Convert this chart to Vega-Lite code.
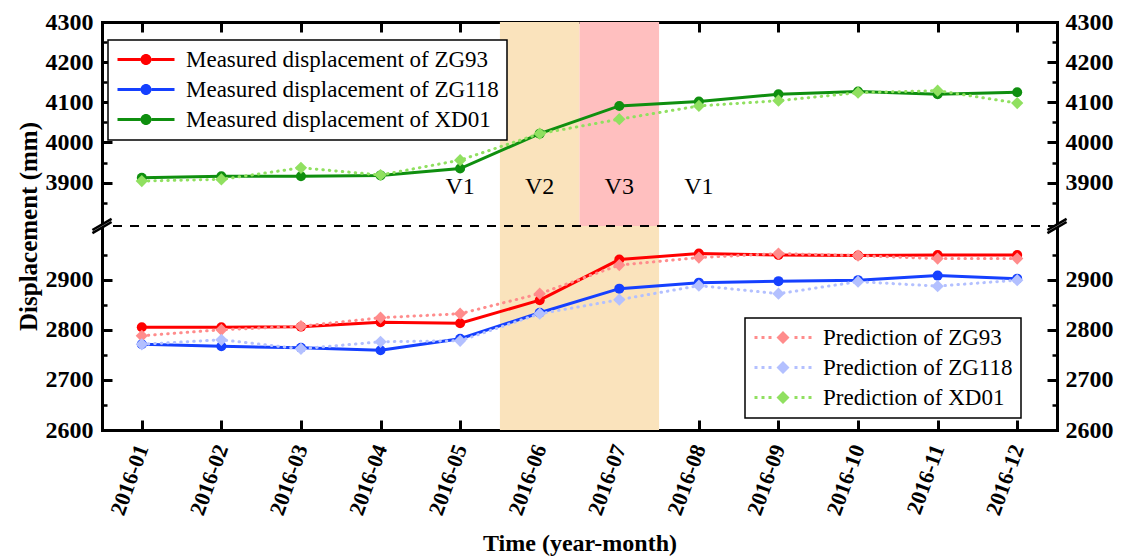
{
  "$schema": "https://vega.github.io/schema/vega-lite/v6.json",
  "width": 955,
  "height": 408,
  "autosize": {"type": "none"},
  "padding": {"left": 102, "top": 22, "right": 66, "bottom": 128},
  "background": "white",
  "config": {
    "view": {"stroke": null},
    "axis": {
      "grid": false,
      "domainColor": "black",
      "domainWidth": 3,
      "domainCap": "square",
      "tickColor": "black",
      "tickWidth": 3,
      "labelFont": "Liberation Serif",
      "labelFontWeight": "bold",
      "labelColor": "black",
      "labelFlush": false,
      "labelOverlap": false,
      "titleFont": "Liberation Serif",
      "titleFontWeight": "bold",
      "titleColor": "black"
    },
    "legend": {
      "labelFont": "Liberation Serif",
      "labelFontSize": 23,
      "labelColor": "black",
      "strokeColor": "black",
      "strokeWidth": 1.5,
      "fillColor": "white",
      "padding": 8,
      "rowPadding": 6,
      "labelOffset": 47,
      "labelLimit": 400
    }
  },
  "datasets": {
    "measured": [
      {"series": "Measured displacement of ZG93", "month": 1, "value": 2805},
      {"series": "Measured displacement of ZG93", "month": 2, "value": 2805},
      {"series": "Measured displacement of ZG93", "month": 3, "value": 2806},
      {"series": "Measured displacement of ZG93", "month": 4, "value": 2815},
      {"series": "Measured displacement of ZG93", "month": 5, "value": 2813},
      {"series": "Measured displacement of ZG93", "month": 6, "value": 2859},
      {"series": "Measured displacement of ZG93", "month": 7, "value": 2940},
      {"series": "Measured displacement of ZG93", "month": 8, "value": 2952},
      {"series": "Measured displacement of ZG93", "month": 9, "value": 2949},
      {"series": "Measured displacement of ZG93", "month": 10, "value": 2948},
      {"series": "Measured displacement of ZG93", "month": 11, "value": 2949},
      {"series": "Measured displacement of ZG93", "month": 12, "value": 2949},
      {"series": "Measured displacement of ZG118", "month": 1, "value": 2771},
      {"series": "Measured displacement of ZG118", "month": 2, "value": 2767},
      {"series": "Measured displacement of ZG118", "month": 3, "value": 2764},
      {"series": "Measured displacement of ZG118", "month": 4, "value": 2759},
      {"series": "Measured displacement of ZG118", "month": 5, "value": 2782},
      {"series": "Measured displacement of ZG118", "month": 6, "value": 2834},
      {"series": "Measured displacement of ZG118", "month": 7, "value": 2882},
      {"series": "Measured displacement of ZG118", "month": 8, "value": 2894},
      {"series": "Measured displacement of ZG118", "month": 9, "value": 2897},
      {"series": "Measured displacement of ZG118", "month": 10, "value": 2899},
      {"series": "Measured displacement of ZG118", "month": 11, "value": 2908},
      {"series": "Measured displacement of ZG118", "month": 12, "value": 2902},
      {"series": "Measured displacement of XD01", "month": 1, "value": 3912},
      {"series": "Measured displacement of XD01", "month": 2, "value": 3916},
      {"series": "Measured displacement of XD01", "month": 3, "value": 3916},
      {"series": "Measured displacement of XD01", "month": 4, "value": 3918},
      {"series": "Measured displacement of XD01", "month": 5, "value": 3935},
      {"series": "Measured displacement of XD01", "month": 6, "value": 4022},
      {"series": "Measured displacement of XD01", "month": 7, "value": 4091},
      {"series": "Measured displacement of XD01", "month": 8, "value": 4102},
      {"series": "Measured displacement of XD01", "month": 9, "value": 4120},
      {"series": "Measured displacement of XD01", "month": 10, "value": 4127},
      {"series": "Measured displacement of XD01", "month": 11, "value": 4120},
      {"series": "Measured displacement of XD01", "month": 12, "value": 4125}
    ],
    "predicted": [
      {"series": "Prediction of ZG93", "month": 1, "value": 2788},
      {"series": "Prediction of ZG93", "month": 2, "value": 2800},
      {"series": "Prediction of ZG93", "month": 3, "value": 2807},
      {"series": "Prediction of ZG93", "month": 4, "value": 2824},
      {"series": "Prediction of ZG93", "month": 5, "value": 2832},
      {"series": "Prediction of ZG93", "month": 6, "value": 2872},
      {"series": "Prediction of ZG93", "month": 7, "value": 2929},
      {"series": "Prediction of ZG93", "month": 8, "value": 2944},
      {"series": "Prediction of ZG93", "month": 9, "value": 2952},
      {"series": "Prediction of ZG93", "month": 10, "value": 2948},
      {"series": "Prediction of ZG93", "month": 11, "value": 2942},
      {"series": "Prediction of ZG93", "month": 12, "value": 2942},
      {"series": "Prediction of ZG118", "month": 1, "value": 2771},
      {"series": "Prediction of ZG118", "month": 2, "value": 2780},
      {"series": "Prediction of ZG118", "month": 3, "value": 2762},
      {"series": "Prediction of ZG118", "month": 4, "value": 2776},
      {"series": "Prediction of ZG118", "month": 5, "value": 2778},
      {"series": "Prediction of ZG118", "month": 6, "value": 2832},
      {"series": "Prediction of ZG118", "month": 7, "value": 2860},
      {"series": "Prediction of ZG118", "month": 8, "value": 2888},
      {"series": "Prediction of ZG118", "month": 9, "value": 2872},
      {"series": "Prediction of ZG118", "month": 10, "value": 2896},
      {"series": "Prediction of ZG118", "month": 11, "value": 2887},
      {"series": "Prediction of ZG118", "month": 12, "value": 2899},
      {"series": "Prediction of XD01", "month": 1, "value": 3904},
      {"series": "Prediction of XD01", "month": 2, "value": 3908},
      {"series": "Prediction of XD01", "month": 3, "value": 3937},
      {"series": "Prediction of XD01", "month": 4, "value": 3919},
      {"series": "Prediction of XD01", "month": 5, "value": 3956},
      {"series": "Prediction of XD01", "month": 6, "value": 4022},
      {"series": "Prediction of XD01", "month": 7, "value": 4058},
      {"series": "Prediction of XD01", "month": 8, "value": 4091},
      {"series": "Prediction of XD01", "month": 9, "value": 4104},
      {"series": "Prediction of XD01", "month": 10, "value": 4124},
      {"series": "Prediction of XD01", "month": 11, "value": 4129},
      {"series": "Prediction of XD01", "month": 12, "value": 4098}
    ],
    "stages": [
      {"zone": "V2", "start": 5.5, "end": 6.5, "low": 3007, "high": 4300},
      {"zone": "V3", "start": 6.5, "end": 7.5, "low": 3007, "high": 4300},
      {"zone": "V2", "start": 5.5, "end": 7.5, "low": 2600, "high": 3007}
    ],
    "stageLabels": [
      {"month": 5, "label": "V1"},
      {"month": 6, "label": "V2"},
      {"month": 7, "label": "V3"},
      {"month": 8, "label": "V1"}
    ],
    "axisEdges": [
      {"edge": 0.5},
      {"edge": 12.5}
    ]
  },
  "resolve": {
    "scale": {"color": "independent"},
    "axis": {"x": "independent", "y": "independent"}
  },
  "layer": [
    {
      "data": {"name": "stages"},
      "mark": {"type": "rect"},
      "encoding": {
        "x": {"field": "start", "type": "quantitative", "scale": {"type": "linear", "domain": [0.5, 12.5], "nice": false, "zero": false}, "axis": null},
        "x2": {"field": "end"},
        "y": {"field": "low", "type": "quantitative", "scale": {"type": "linear", "domain": [2600, 3007, 3792, 4300], "range": [408, 204, 204, 0], "nice": false, "zero": false}, "axis": null},
        "y2": {"field": "high"},
        "color": {"field": "zone", "type": "nominal", "scale": {"domain": ["V2", "V3"], "range": ["#FAE3BC", "#FFBFBF"]}, "legend": null}
      }
    },
    {
      "data": {"name": "stageLabels"},
      "mark": {"type": "rule", "strokeDash": [9, 8], "strokeWidth": 2, "color": "black"},
      "encoding": {
        "y": {"datum": 3007, "type": "quantitative",
          "axis": {"orient": "left", "values": [2650, 2750, 2850, 2950, 3850, 3950, 4050, 4150, 4250], "labels": false, "domain": false, "tickSize": -5, "tickWidth": 2.5, "title": null}}
      }
    },
    {
      "data": {"name": "measured"},
      "mark": {"type": "line", "strokeWidth": 3},
      "encoding": {
        "x": {"field": "month", "type": "quantitative",
          "axis": {"orient": "bottom", "values": [1, 2, 3, 4, 5, 6, 7, 8, 9, 10, 11, 12],
            "labelExpr": "'2016-' + (datum.value < 10 ? '0' : '') + datum.value",
            "labelFont": "Liberation Serif", "labelFontWeight": "bold",
            "labelAngle": -70, "labelFontSize": 22, "labelPadding": 25, "tickSize": -10,
            "title": "Time (year-month)", "titleFontSize": 24, "titlePadding": 14}},
        "y": {"field": "value", "type": "quantitative",
          "axis": {"orient": "left", "values": [2600, 2700, 2800, 2900, 3900, 4000, 4100, 4200, 4300], "format": "d",
            "labelFont": "Liberation Serif", "labelFontWeight": "bold",
            "labelFontSize": 24, "labelPadding": 19, "tickSize": -10,
            "title": "Displacement (mm)", "titleFontSize": 25, "titlePadding": 4}},
        "color": {"field": "series", "type": "nominal",
          "scale": {"domain": ["Measured displacement of ZG93", "Measured displacement of ZG118", "Measured displacement of XD01"], "range": ["#FF0000", "#1540FF", "#0F8F0F"]},
          "legend": null}
      }
    },
    {
      "data": {"name": "measured"},
      "mark": {"type": "point", "shape": "circle", "filled": true, "size": 100, "opacity": 1},
      "encoding": {
        "x": {"field": "month", "type": "quantitative", "axis": null},
        "y": {"field": "value", "type": "quantitative", "axis": null},
        "color": {"field": "series", "type": "nominal",
          "scale": {"domain": ["Measured displacement of ZG93", "Measured displacement of ZG118", "Measured displacement of XD01"], "range": ["#FF0000", "#1540FF", "#0F8F0F"]},
          "legend": {"orient": "none", "legendX": 6, "legendY": 18, "title": null, "direction": "vertical",
            "symbolType": "M-1,-0.15H1.3V0.15H-1Z M2.4,-0.15H4.7V0.15H2.4Z M2.4,0A0.55,0.55 0 1,1 1.3,0A0.55,0.55 0 1,1 2.4,0Z",
            "symbolSize": 400, "symbolStrokeWidth": 0}}
      }
    },
    {
      "data": {"name": "predicted"},
      "mark": {"type": "line", "strokeWidth": 3, "strokeDash": [0.5, 6], "strokeCap": "round"},
      "encoding": {
        "x": {"field": "month", "type": "quantitative",
          "axis": {"orient": "top", "values": [1, 2, 3, 4, 5, 6, 7, 8, 9, 10, 11, 12], "labels": false, "tickSize": -10, "title": null}},
        "y": {"field": "value", "type": "quantitative",
          "axis": {"orient": "right", "values": [2600, 2700, 2800, 2900, 3900, 4000, 4100, 4200, 4300], "format": "d",
            "labelFont": "Liberation Serif", "labelFontWeight": "bold",
            "labelFontSize": 24, "labelPadding": 18, "tickSize": -10, "title": null}},
        "color": {"field": "series", "type": "nominal",
          "scale": {"domain": ["Prediction of ZG93", "Prediction of ZG118", "Prediction of XD01"], "range": ["#FF8C8C", "#B3C0FF", "#90E060"]},
          "legend": null}
      }
    },
    {
      "data": {"name": "predicted"},
      "mark": {"type": "point", "shape": "diamond", "filled": true, "size": 150, "opacity": 1},
      "encoding": {
        "x": {"field": "month", "type": "quantitative", "axis": null},
        "y": {"field": "value", "type": "quantitative", "axis": null},
        "color": {"field": "series", "type": "nominal",
          "scale": {"domain": ["Prediction of ZG93", "Prediction of ZG118", "Prediction of XD01"], "range": ["#FF8C8C", "#B3C0FF", "#90E060"]},
          "legend": {"orient": "none", "legendX": 643, "legendY": 296, "title": null, "direction": "vertical",
            "symbolType": "M-1,-0.15h0.3v0.3h-0.3Z M-0.3,-0.15h0.3v0.3h-0.3Z M0.4,-0.15h0.3v0.3h-0.3Z M3.0,-0.15h0.3v0.3h-0.3Z M3.7,-0.15h0.3v0.3h-0.3Z M4.4,-0.15h0.3v0.3h-0.3Z M1.85,-0.65L2.5,0L1.85,0.65L1.2,0Z",
            "symbolSize": 400, "symbolStrokeWidth": 0}}
      }
    },
    {
      "data": {"name": "stageLabels"},
      "mark": {"type": "text", "font": "Liberation Serif", "fontSize": 24, "color": "black", "baseline": "middle", "align": "center"},
      "encoding": {
        "x": {"field": "month", "type": "quantitative", "axis": null},
        "y": {"datum": 3888, "type": "quantitative",
          "axis": {"orient": "right", "values": [2650, 2750, 2850, 2950, 3850, 3950, 4050, 4150, 4250], "labels": false, "domain": false, "tickSize": -5, "tickWidth": 2.5, "title": null}},
        "text": {"field": "label"}
      }
    },
    {
      "data": {"name": "axisEdges"},
      "mark": {"type": "point", "shape": "M-0.8,0.33L0.8,-0.59L0.8,-0.33L-0.8,0.59Z", "filled": true, "fill": "white", "size": 576, "opacity": 1},
      "encoding": {
        "x": {"field": "edge", "type": "quantitative", "axis": null},
        "y": {"datum": 3007, "type": "quantitative", "axis": null}
      }
    },
    {
      "data": {"name": "axisEdges"},
      "mark": {"type": "point", "shape": "M-0.8,0.33L0.8,-0.59M-0.8,0.59L0.8,-0.33", "filled": false, "stroke": "black", "strokeWidth": 2.5, "size": 576, "opacity": 1},
      "encoding": {
        "x": {"field": "edge", "type": "quantitative", "axis": null},
        "y": {"datum": 3007, "type": "quantitative", "axis": null}
      }
    }
  ]
}
